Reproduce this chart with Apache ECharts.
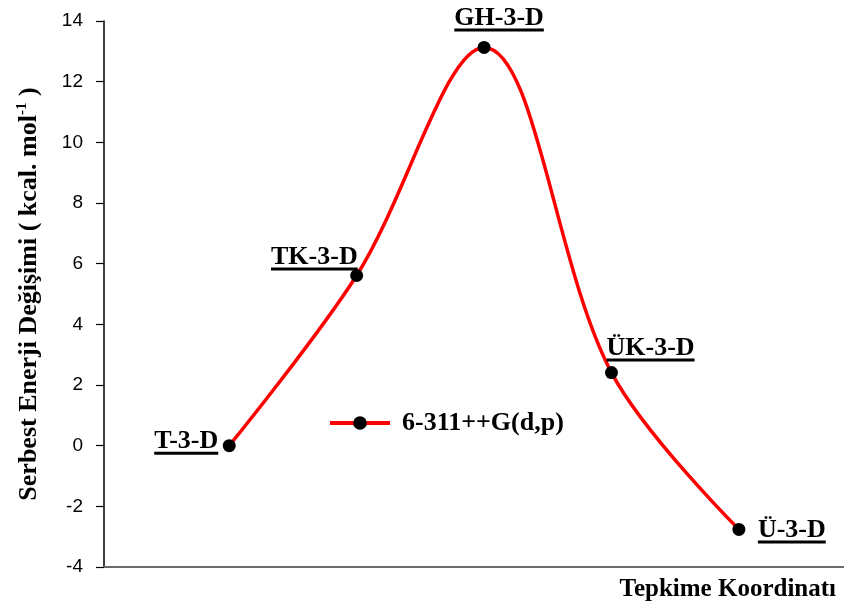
<!DOCTYPE html>
<html>
<head>
<meta charset="utf-8">
<script src="https://cdn.jsdelivr.net/npm/echarts@6/dist/echarts.min.js"></script>
<style>
  html, body { margin: 0; padding: 0; background: #fff; }
  #chart { width: 844px; height: 608px; }
</style>
</head>
<body>
<div id="chart"></div>
<script>
// Reaction coordinate steps and the state names placed on them
const steps = [1, 2, 3, 4, 5];
const stateNames = ['T-3-D', 'TK-3-D', 'GH-3-D', 'ÜK-3-D', 'Ü-3-D'];
// Free energy change (kcal/mol) for each state
const energies = [0.0, 5.61, 13.13, 2.41, -2.76];
// Energy axis ticks
const yMin = -4, yMax = 14, yStep = 2;
const seriesName = '6-311++G(d,p)';

const SERIF = '"Liberation Serif", "Times New Roman", serif';
const SANS = '"Liberation Sans", Arial, sans-serif';
const LABEL_SIZE = 26;

// Where each state label sits relative to its point: anchor, dx, dy (px)
const labelPlacement = [
  { align: 'right',  dx: -11, dy: 9 },
  { align: 'right',  dx: 1,   dy: -5 },
  { align: 'center', dx: 15,  dy: -16 },
  { align: 'left',   dx: -5,  dy: -11 },
  { align: 'left',   dx: 19,  dy: 14 }
];

const measureCtx = document.createElement('canvas').getContext('2d');
function textWidth(str, size) {
  measureCtx.font = 'bold ' + size + 'px ' + SERIF;
  return measureCtx.measureText(str).width;
}

const SYMBOL = 13;
const points = steps.map((s, i) => {
  const p = labelPlacement[i];
  const w = textWidth(stateNames[i], LABEL_SIZE);
  return {
    value: [s, energies[i]],
    label: {
      show: true,
      position: [SYMBOL / 2 + p.dx, SYMBOL / 2 + p.dy],
      align: p.align,
      verticalAlign: 'bottom',
      formatter: '{t|' + stateNames[i] + '}\n{u| }',
      rich: {
        t: { fontFamily: SERIF, fontWeight: 'bold', fontSize: LABEL_SIZE, color: '#000', lineHeight: 20, align: p.align },
        u: { width: w, height: 3, lineHeight: 3, backgroundColor: '#000', fontSize: 1, align: p.align }
      }
    }
  };
});

const chart = echarts.init(document.getElementById('chart'), null, { renderer: 'canvas' });
chart.setOption({
  animation: false,
  backgroundColor: '#fff',
  grid: { left: 104, right: 0, top: 21, bottom: 41, containLabel: false, outerBoundsMode: 'none' },
  xAxis: {
    type: 'value',
    min: 0.017,
    max: 5.825,
    axisLine: { show: true, onZero: false, lineStyle: { color: '#6b6b6b', width: 2 } },
    axisTick: { show: false },
    axisLabel: { show: false },
    splitLine: { show: false }
  },
  yAxis: {
    type: 'value',
    min: yMin,
    max: yMax,
    interval: yStep,
    axisLine: { show: true, onZero: false, lineStyle: { color: '#000', width: 1.5 } },
    axisTick: { show: true, inside: false, length: 8, lineStyle: { color: '#000', width: 1.2 } },
    axisLabel: { margin: 21, color: '#000', fontFamily: SANS, fontSize: 19 },
    splitLine: { show: false },
    name: '{a|Serbest Enerji Değişimi ( kcal. mol}{s|-1}{a| )}',
    nameLocation: 'middle',
    nameRotate: 90,
    nameGap: 61,
    nameTextStyle: {
      rich: {
        a: { fontFamily: SERIF, fontWeight: 'bold', fontSize: 26, color: '#000', lineHeight: 28 },
        s: { fontFamily: SERIF, fontWeight: 'bold', fontSize: 15, color: '#000', lineHeight: 28, verticalAlign: 'top' }
      }
    }
  },
  legend: {
    data: [seriesName],
    left: 323,
    top: 405,
    itemWidth: 60,
    itemHeight: 17,
    lineStyle: { width: 4 },
    textStyle: { fontFamily: SERIF, fontWeight: 'bold', fontSize: 26, color: '#000', padding: [0, 0, 0, 7] }
  },
  graphic: [{
    type: 'text',
    right: 8,
    top: 577,
    style: { text: 'Tepkime Koordinatı', font: 'bold 25px ' + SERIF, fill: '#000' }
  }],
  series: [{
    name: seriesName,
    type: 'line',
    smooth: 0.35,
    symbol: 'circle',
    symbolSize: SYMBOL,
    itemStyle: { color: '#000' },
    lineStyle: { color: '#ff0000', width: 3.5 },
    data: points,
    z: 3
  }]
});
</script>
</body>
</html>
